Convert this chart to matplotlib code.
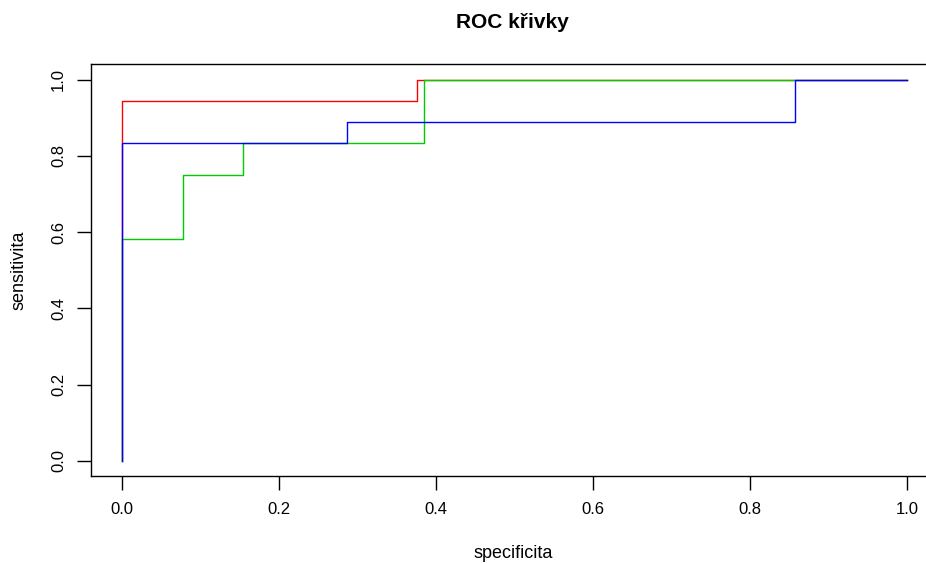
import matplotlib
matplotlib.use("Agg")
import matplotlib.pyplot as plt

plt.rcParams['font.family'] = ['Liberation Sans', 'DejaVu Sans']

# ROC curves, corner points of each step line
red_x = [0.0, 0.0, 0.375, 1.0]
red_y = [0.0, 0.944, 1.0, 1.0]
green_x = [0.0, 0.0, 0.077, 0.154, 0.385, 1.0]
green_y = [0.0, 0.583, 0.75, 0.833, 1.0, 1.0]
blue_x = [0.0, 0.0, 0.286, 0.857, 1.0]
blue_y = [0.0, 0.833, 0.889, 1.0, 1.0]

ticks = [0.0, 0.2, 0.4, 0.6, 0.8, 1.0]
tick_labels = ["0.0", "0.2", "0.4", "0.6", "0.8", "1.0"]

fig = plt.figure(figsize=(9.26, 5.63), dpi=100)
# R style box, right side is cut off in the original picture
ax = fig.add_axes([90.9 / 926, 1 - 476.0 / 563, (938.4 - 90.9) / 926, (476.0 - 64.5) / 563])

ax.plot(red_x, red_y, drawstyle='steps-post', color='#FF0000', lw=1)
ax.plot(green_x, green_y, drawstyle='steps-post', color='#00CD00', lw=1)
ax.plot(blue_x, blue_y, drawstyle='steps-post', color='#0000FF', lw=1)

ax.set_xlim(-0.04, 1.04)
ax.set_ylim(-0.04, 1.04)
ax.set_xticks(ticks)
ax.set_xticklabels(tick_labels)
ax.set_yticks(ticks)
ax.set_yticklabels(tick_labels, rotation=90, va='center')
ax.tick_params(axis='both', direction='out', length=10, width=1, labelsize=12, colors='black')
ax.tick_params(axis='x', pad=9)
ax.tick_params(axis='y', pad=8)
for s in ax.spines.values():
    s.set_linewidth(1)
    s.set_color('black')

fig.text(512 / 926, 1 - 28.3 / 563, "ROC křivky", ha='center', va='baseline',
         fontsize=15, fontweight='bold')
fig.text(513 / 926, 1 - 558 / 563, "specificita", ha='center', va='baseline', fontsize=13)
fig.text(24 / 926, 1 - 270 / 563, "sensitivita", ha='center', va='baseline',
         fontsize=13, rotation=90, rotation_mode='anchor')

fig.savefig("out.png", dpi=100)
